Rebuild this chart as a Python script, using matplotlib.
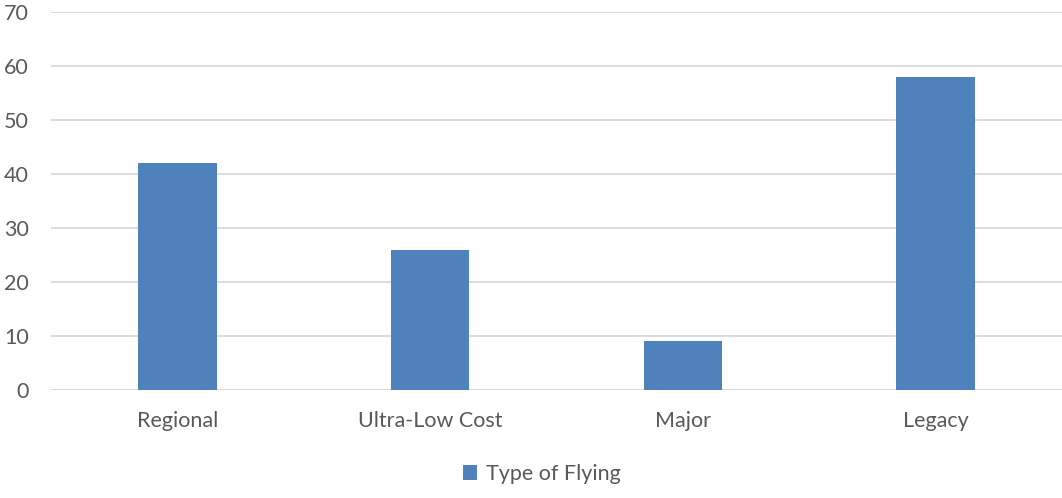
import matplotlib
matplotlib.use("Agg")
import matplotlib.pyplot as plt
from matplotlib.patches import Patch

categories = ["Regional", "Ultra-Low Cost", "Major", "Legacy"]
values = [42, 26, 9, 58]
series_name = "Type of Flying"
yticks = [0, 10, 20, 30, 40, 50, 60, 70]

bar_color = "#4F81BD"
text_color = "#595959"
grid_color = "#D9D9D9"

plt.rcParams["font.family"] = ["Lato", "DejaVu Sans"]

fig = plt.figure(figsize=(10.62, 4.98), dpi=100)
ax = fig.add_axes([51 / 1062, 1 - 390 / 498, 1 - 51 / 1062, (390 - 12) / 498])

x = range(len(categories))
ax.bar(x, values, width=0.31, color=bar_color, zorder=3)

ax.set_xlim(-0.5, len(categories) - 0.5)
ax.set_ylim(0, 70)
ax.set_yticks(yticks)
ax.set_xticks(list(x))
ax.set_xticklabels(categories)

ax.grid(axis="y", color=grid_color, linewidth=1.3, zorder=0)
ax.set_axisbelow(True)
for s in ax.spines.values():
    s.set_visible(False)
ax.axhline(0, color=grid_color, linewidth=1.3, zorder=1)

ax.tick_params(axis="both", length=0, labelsize=15.5, colors=text_color)
ax.tick_params(axis="y", pad=16)
ax.tick_params(axis="x", pad=15)

handle = Patch(facecolor=bar_color, edgecolor="none")
fig.legend([handle], [series_name], loc="center", bbox_to_anchor=(542 / 1062, 1 - 474 / 498),
           frameon=False, fontsize=15.5, labelcolor=text_color,
           handlelength=0.65, handleheight=0.65, handletextpad=0.4)

fig.savefig("out.png", dpi=100)
